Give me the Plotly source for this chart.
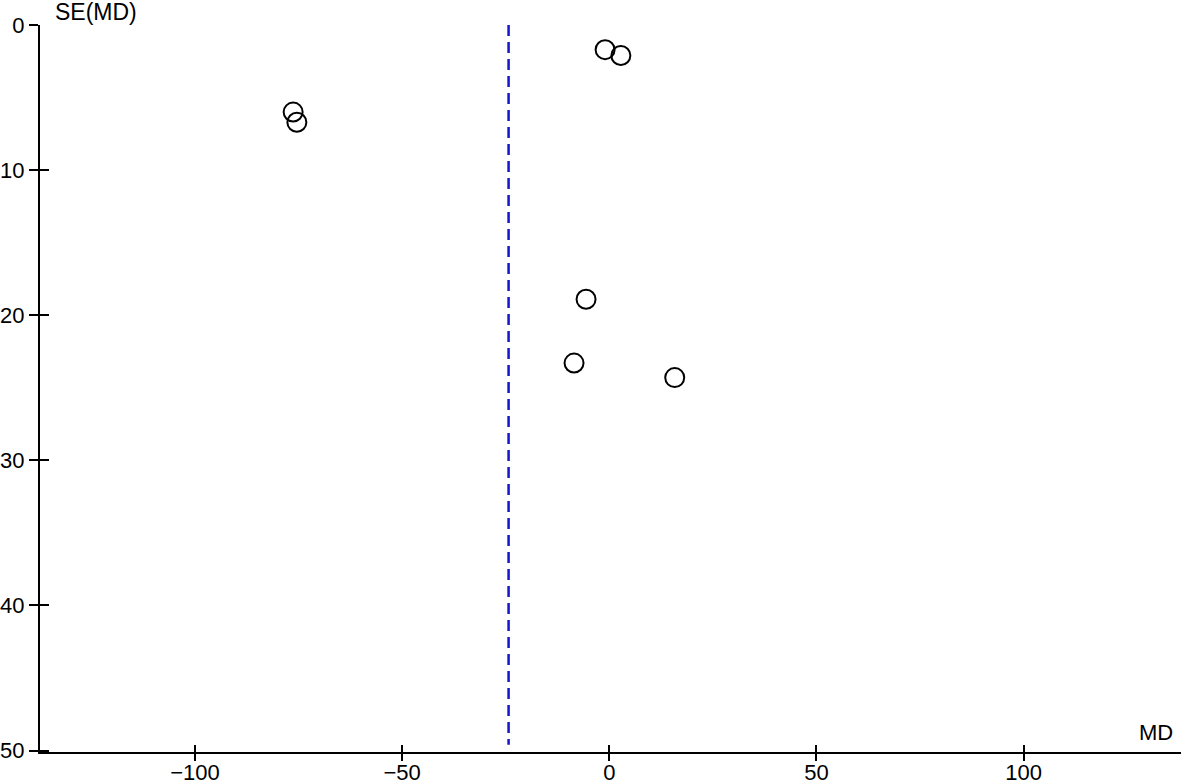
import plotly.graph_objects as go

# Study estimates (mean difference) and their standard errors
md = [-76.3, -75.4, -1.0, 2.8, -5.6, -8.5, 15.8]
se = [6.0, 6.7, 1.7, 2.1, 18.9, 23.3, 24.3]
pooled_md = -24.3
se_max = 49.6

x_ticks = [-100, -50, 0, 50, 100]
y_ticks = [0, 10, 20, 30, 40, 50]
x_range = [-137.4, 138.0]
y_range = [50.1, 0]

font = "Liberation Sans, Arial, sans-serif"

fig = go.Figure()

fig.add_trace(go.Scatter(
    x=[pooled_md, pooled_md], y=[0, se_max], mode="lines",
    line=dict(color="#1515cc", width=2.5, dash="11px,6px"),
    hoverinfo="skip", showlegend=False))

fig.add_trace(go.Scatter(
    x=md, y=se, mode="markers",
    marker=dict(symbol="circle-open", size=19, color="black",
                line=dict(color="black", width=2)),
    showlegend=False))

# invisible trace on the overlay axes (used for inward half of the ticks)
fig.add_trace(go.Scatter(x=[x_ticks[0]], y=[y_ticks[0]], xaxis="x2", yaxis="y2",
                         mode="markers", marker=dict(opacity=0), hoverinfo="skip",
                         showlegend=False))

common = dict(showgrid=False, zeroline=False, linecolor="black", linewidth=2,
              tickcolor="black", tickwidth=2, automargin=False)

fig.update_layout(
    width=1181, height=783,
    margin=dict(l=40, r=0, t=25, b=31),
    paper_bgcolor="white", plot_bgcolor="white",
    font=dict(family=font, size=22, color="black"),
    xaxis=dict(range=x_range, tickvals=x_ticks, ticks="outside", ticklen=7,
               showline=True, tickfont=dict(size=22), ticklabelstandoff=-7,
               **common),
    yaxis=dict(range=y_range, tickvals=y_ticks, ticks="outside", ticklen=9,
               showline=True, tickfont=dict(size=22), ticklabelstandoff=0,
               **common),
    xaxis2=dict(range=x_range, tickvals=x_ticks, ticks="inside", ticklen=7,
                overlaying="x", showticklabels=False, showline=False, **common),
    yaxis2=dict(range=y_range, tickvals=y_ticks, ticks="inside", ticklen=9,
                overlaying="y", showticklabels=False, showline=False, **common),
    annotations=[
        dict(text="SE(MD)", xref="paper", yref="paper", x=0.011, y=1,
             xanchor="left", yanchor="bottom", showarrow=False,
             font=dict(size=23), yshift=-2),
        dict(text="MD", xref="paper", yref="paper", x=1, y=0,
             xanchor="right", yanchor="bottom", showarrow=False,
             font=dict(size=22), xshift=-6, yshift=5),
    ],
)

fig.write_html("out.html",
               config={"displayModeBar": False},
               post_script="document.body.style.margin='0';document.body.style.overflow='hidden';")
